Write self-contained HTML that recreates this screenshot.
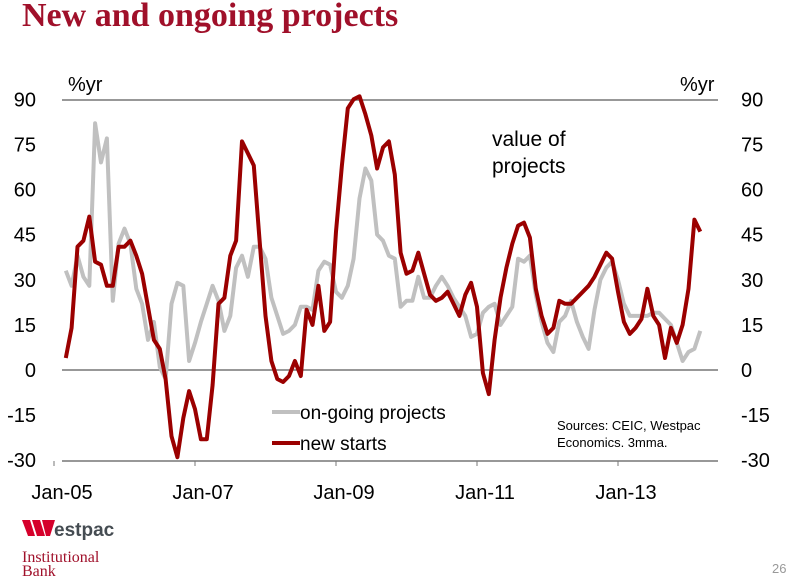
<!DOCTYPE html>
<html><head><meta charset="utf-8"><style>
body{margin:0;background:#fff;width:794px;height:578px;overflow:hidden;font-family:"Liberation Sans",sans-serif}
</style></head><body>
<svg id="c" width="794" height="578" xmlns="http://www.w3.org/2000/svg">
<text x="22" y="26" font-family="Liberation Serif" font-weight="bold" font-size="34" fill="#a0102a">New and ongoing projects</text>
<text x="68" y="91" font-size="20">%yr</text>
<text x="680" y="91" font-size="20">%yr</text>
<text x="492" y="146" font-size="21">value of</text>
<text x="492" y="173" font-size="21">projects</text>
<g id="axes"></g>
<g id="series"></g>
<line x1="272" y1="412" x2="300" y2="412" stroke="#c0c0c0" stroke-width="4"/>
<text x="300" y="419" font-size="19">on-going projects</text>
<line x1="272" y1="443" x2="300" y2="443" stroke="#9b0000" stroke-width="4"/>
<text x="300" y="450" font-size="19">new starts</text>
<text x="557" y="430" font-size="13">Sources: CEIC, Westpac</text>
<text x="557" y="447" font-size="13">Economics. 3mma.</text>
<g>
<polygon points="22,520 30,520 35,536 28,536" fill="#d5002b"/>
<polygon points="32,520 40,520 45,536 37,536" fill="#d5002b"/>
<polygon points="42,520 55,520 50,536 46,536" fill="#d5002b"/>
<text x="54" y="536" font-size="19" font-weight="bold" fill="#454c52">estpac</text>
<text x="22" y="562" font-family="Liberation Serif" font-size="16" fill="#a0102a">Institutional</text>
<text x="22" y="576" font-family="Liberation Serif" font-size="16" fill="#a0102a">Bank</text>
</g>
<text x="772" y="573" font-size="13" fill="#999">26</text>
</svg>
<script>
const ticksY=[90,75,60,45,30,15,0,-15,-30];
const tickLabelsX=["Jan-05","Jan-07","Jan-09","Jan-11","Jan-13"];
const tickMonthsX=[0,24,48,72,96];
const startMonth=2;
const newStarts=[4,14,41,43,51,36,35,28,28,41,41,43,38,32,21,10,7,-3,-22,-29,-16,-7,-13,-23,-23,-5,22,24,38,43,76,72,68,43,18,3,-3,-4,-2,3,-2,20,15,28,13,16,46,68,87,90,91,85,78,67,74,76,65,39,32,33,39,32,25,23,24,26,22,18,25,29,21,-1,-8,10,24,34,42,48,49,44,27,18,12,14,23,22,22,24,26,28,31,35,39,37,26,16,12,14,17,27,18,15,4,14,9,15,27,50,46];
const ongoing=[33,28,38,31,28,82,69,77,23,42,47,42,27,22,10,16,1,-3,22,29,28,3,9,16,22,28,23,13,18,34,38,31,41,41,37,24,18,12,13,15,21,21,20,33,36,35,26,24,28,37,57,67,63,45,43,38,37,21,23,23,31,24,24,28,31,28,24,21,18,11,12,19,21,22,15,18,21,37,36,38,25,16,9,6,16,18,23,16,11,7,20,30,34,36,30,22,18,18,18,18,19,19,17,15,9,3,6,7,13];
const NS="http://www.w3.org/2000/svg";
const X0=62,X1=718,Y0=100,Y1=461;
const xm=m=>54+m*5.875;
const yv=v=>370-(v)*3.008;
const ax=document.getElementById('axes'),se=document.getElementById('series');
function mk(t,a,p){const e=document.createElementNS(NS,t);for(const k in a)e.setAttribute(k,a[k]);p.appendChild(e);return e;}
let e;
e=mk('line',{x1:X0,y1:Y0,x2:X1,y2:Y0,stroke:'#777','stroke-width':1.5},ax);


e=mk('line',{x1:X0,y1:Y1,x2:X1,y2:Y1,stroke:'#777','stroke-width':1.5},ax);


e=mk('line',{x1:X0,y1:yv(0),x2:X1,y2:yv(0),stroke:'#777','stroke-width':1.5},ax);


ticksY.forEach(v=>{
 e=mk('text',{x:36,y:yv(v)+7,'font-size':20,'text-anchor':'end'},ax);e.textContent=v;
 
 
 e=mk('text',{x:741,y:yv(v)+7,'font-size':20},ax);e.textContent=v;
 
 
});
tickMonthsX.forEach((m,i)=>{
 e=mk('line',{x1:xm(m),y1:Y1,x2:xm(m),y2:Y1+5,stroke:'#777'},ax);
 
 
 e=mk('text',{x:xm(m)+8,y:Y1+38,'font-size':20,'text-anchor':'middle'},ax);e.textContent=tickLabelsX[i];
 
 
});
function line(d){return d.map((v,i)=>xm(startMonth+i).toFixed(1)+','+yv(v).toFixed(1)).join(' ');}
e=mk('polyline',{points:line(ongoing),fill:'none',stroke:'#c0c0c0','stroke-width':4,'stroke-linejoin':'round'},se);


e=mk('polyline',{points:line(newStarts),fill:'none',stroke:'#9b0000','stroke-width':4,'stroke-linejoin':'round'},se);


</script>
</body></html>
